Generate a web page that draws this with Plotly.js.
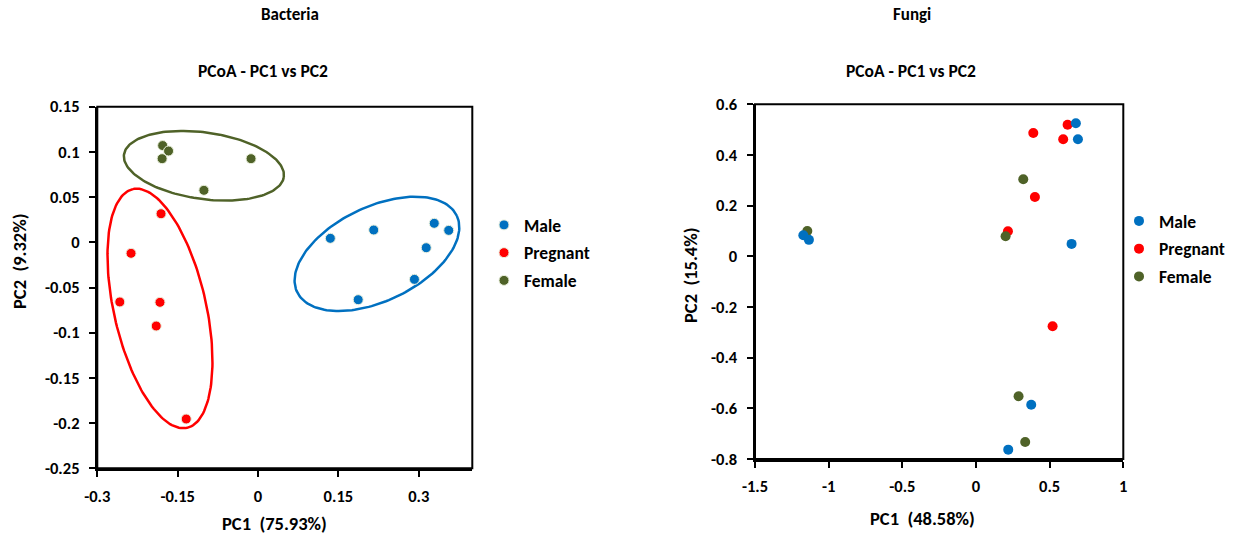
<!DOCTYPE html>
<html>
<head>
<meta charset="utf-8">
<script src="https://cdn.plot.ly/plotly-3.0.1.min.js"></script>
<style>html,body{margin:0;padding:0;background:#fff;}#chart{width:1238px;height:536px;}</style>
</head>
<body>
<div id="chart"></div>
<script>
// ---------- Data ----------
const groups = ["Male", "Pregnant", "Female"];

// Bacteria PCoA
const bactMaleX = [0.135, 0.216, 0.329, 0.356, 0.314, 0.292, 0.187];
const bactMaleY = [0.0044, 0.0136, 0.021, 0.0132, -0.006, -0.041, -0.0635];
const bactPregX = [-0.181, -0.237, -0.258, -0.183, -0.190, -0.134];
const bactPregY = [0.0316, -0.0122, -0.066, -0.0664, -0.0926, -0.1955];
const bactFemX = [-0.178, -0.167, -0.179, -0.013, -0.101];
const bactFemY = [0.107, 0.101, 0.0925, 0.0925, 0.0575];

// Fungi PCoA
const fungMaleX = [0.678, 0.692, 0.649, -1.172, -1.134, 0.375, 0.219];
const fungMaleY = [0.525, 0.462, 0.049, 0.083, 0.065, -0.586, -0.763];
const fungPregX = [0.622, 0.389, 0.592, 0.400, 0.217, 0.520];
const fungPregY = [0.519, 0.487, 0.462, 0.234, 0.099, -0.276];
const fungFemX = [0.321, -1.145, 0.201, 0.289, 0.334];
const fungFemY = [0.304, 0.100, 0.079, -0.552, -0.733];

// Group ellipses (Bacteria): centres in data units
const ellGroup = ["Female", "Pregnant", "Male"];
const ellCx = [-0.101, -0.183, 0.222];
const ellCy = [0.0847, -0.0732, -0.0128];

// Tick labels
const bactXTicks = [-0.3, -0.15, 0, 0.15, 0.3];
const bactXText = ["-0.3", "-0.15", "0", "0.15", "0.3"];
const bactYTicks = [0.15, 0.1, 0.05, 0, -0.05, -0.1, -0.15, -0.2, -0.25];
const bactYText = ["0.15", "0.1", "0.05", "0", "-0.05", "-0.1", "-0.15", "-0.2", "-0.25"];
const fungXTicks = [-1.5, -1, -0.5, 0, 0.5, 1];
const fungXText = ["-1.5", "-1", "-0.5", "0", "0.5", "1"];
const fungYTicks = [0.6, 0.4, 0.2, 0, -0.2, -0.4, -0.6, -0.8];
const fungYText = ["0.6", "0.4", "0.2", "0", "-0.2", "-0.4", "-0.6", "-0.8"];

// ---------- Styles / geometry ----------
const W = 1238, H = 536;
const FONT = "Carlito, Lato, 'Open Sans', sans-serif";
const colors = {Male: "#0070C0", Pregnant: "#FF0000", Female: "#4F6228"};
// ellipse shape (pixels): semi-major, semi-minor, rotation (deg, ccw)
const ellStyle = {
  Female: {a: 80.7, b: 33.3, rot: -8},
  Pregnant: {a: 122.4, b: 46.1, rot: 102.8},
  Male: {a: 88.5, b: 47.1, rot: 25.6}
};
const L = {x0: 97.3, x1: 472.3, y0: 106.7, y1: 468.3, xr: [-0.3, 0.4], yr: [-0.25, 0.15]};
const R = {x0: 755, x1: 1123.3, y0: 104.3, y1: 459, xr: [-1.5, 1], yr: [-0.8, 0.6]};

function ellipseTrace(i) {
  const g = ellGroup[i], s = ellStyle[g];
  const pxX = (L.x1 - L.x0) / (L.xr[1] - L.xr[0]);
  const pxY = (L.y1 - L.y0) / (L.yr[1] - L.yr[0]);
  const al = s.rot * Math.PI / 180;
  const xs = [], ys = [];
  for (let k = 0; k <= 180; k++) {
    const t = 2 * Math.PI * k / 180;
    const ex = s.a * Math.cos(t), ey = s.b * Math.sin(t);
    const dx = ex * Math.cos(al) - ey * Math.sin(al);
    const dy = ex * Math.sin(al) + ey * Math.cos(al);
    xs.push(ellCx[i] + dx / pxX);
    ys.push(ellCy[i] + dy / pxY);
  }
  return {x: xs, y: ys, type: "scatter", mode: "lines", xaxis: "x", yaxis: "y",
    line: {color: colors[g], width: 2.5}, showlegend: false, hoverinfo: "skip"};
}

function pts(x, y, g, ax, legendName, show, rank, outline) {
  return {x: x, y: y, type: "scatter", mode: "markers", name: g,
    xaxis: ax[0], yaxis: ax[1], legend: legendName, showlegend: show,
    legendgroup: legendName + g, legendrank: rank,
    marker: {color: colors[g], size: 10,
      line: outline ? {color: "#EBF1DE", width: 1} : {width: 0}}};
}

const data = [
  ellipseTrace(0), ellipseTrace(1), ellipseTrace(2),
  pts(bactMaleX, bactMaleY, "Male", ["x", "y"], "legend", true, 1, true),
  pts(bactPregX, bactPregY, "Pregnant", ["x", "y"], "legend", true, 2, true),
  pts(bactFemX, bactFemY, "Female", ["x", "y"], "legend", true, 3, true),
  pts(fungPregX, fungPregY, "Pregnant", ["x2", "y2"], "legend2", true, 2, false),
  pts(fungFemX, fungFemY, "Female", ["x2", "y2"], "legend2", true, 3, false),
  pts(fungMaleX, fungMaleY, "Male", ["x2", "y2"], "legend2", true, 1, false)
];

function axis(dom, rng, tv, tt, isX, anchor) {
  return {domain: dom, range: rng, anchor: anchor, tickvals: tv, ticktext: tt,
    showgrid: false, zeroline: false, showline: true, linecolor: "#000", linewidth: 2.5,
    ticks: "outside", ticklen: 6, tickwidth: 2, tickcolor: "#000",
    ticklabelstandoff: isX ? 5 : 6,
    tickfont: {family: FONT, size: 16.5, color: "#000", weight: "bold"}, fixedrange: true};
}

const legendBase = {font: {family: FONT, size: 17.5, color: "#000", weight: "bold"},
  bgcolor: "rgba(0,0,0,0)", borderwidth: 0, traceorder: "grouped", tracegroupgap: 2,
  xanchor: "left", yanchor: "top", itemclick: false};

const ann = (text, x, y, size, rot) => ({text: text, x: x / W, y: 1 - y / H, xref: "paper", yref: "paper",
  showarrow: false, xanchor: "center", yanchor: "middle", textangle: rot || 0,
  font: {family: FONT, size: size, color: "#000", weight: "bold"}});

const frame = (xr, yr) => ({type: "rect", xref: xr + " domain", yref: yr + " domain",
  x0: 0, x1: 1, y0: 0, y1: 1, line: {color: "#000", width: 2}, layer: "above"});

const layout = {
  width: W, height: H, margin: {l: 0, r: 0, t: 0, b: 0},
  paper_bgcolor: "#fff", plot_bgcolor: "#fff",
  xaxis: axis([L.x0 / W, L.x1 / W], L.xr, bactXTicks, bactXText, true, "y"),
  yaxis: axis([1 - L.y1 / H, 1 - L.y0 / H], L.yr, bactYTicks, bactYText, false, "x"),
  xaxis2: axis([R.x0 / W, R.x1 / W], R.xr, fungXTicks, fungXText, true, "y2"),
  yaxis2: axis([1 - R.y1 / H, 1 - R.y0 / H], R.yr, fungYTicks, fungYText, false, "x2"),
  legend: Object.assign({}, legendBase, {x: 484 / W, y: 1 - 207 / H}),
  legend2: Object.assign({}, legendBase, {x: 1119 / W, y: 1 - 203 / H}),
  shapes: [frame("x", "y"), frame("x2", "y2")],
  annotations: [
    ann("Bacteria", 290, 14, 17),
    ann("PCoA - PC1 vs PC2", 263, 71, 17.5),
    ann("Fungi", 912, 14, 17),
    ann("PCoA - PC1 vs PC2", 911, 71, 17.5),
    ann("PC1\u00a0 (75.93%)", 274, 523, 18.5),
    ann("PC2\u00a0 (9.32%)", 19, 262, 18.5, -90),
    ann("PC1\u00a0 (48.58%)", 922, 518, 18.5),
    ann("PC2\u00a0 (15.4%)", 690, 276, 18.5, -90)
  ],
  showlegend: true
};

Plotly.newPlot("chart", data, layout, {displayModeBar: false, staticPlot: true});
</script>
</body>
</html>
